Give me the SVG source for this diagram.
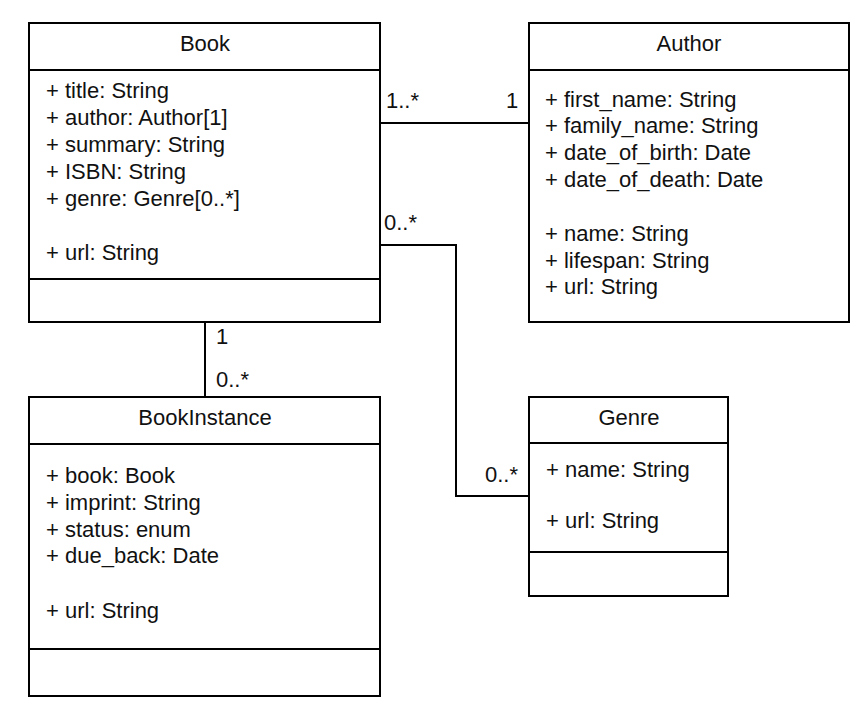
<svg xmlns="http://www.w3.org/2000/svg" width="867" height="720" viewBox="0 0 867 720">
<style>
.box{fill:#fff;stroke:#000;stroke-width:2}
.ln{stroke:#000;stroke-width:2;fill:none}
text{font-family:"Liberation Sans",Arial,sans-serif;font-size:22px;fill:#111}
.c{text-anchor:middle}
</style>
<rect width="867" height="720" fill="#fff"/>
<g id="connectors">
<path class="ln" d="M380,123 H529"/>
<path class="ln" d="M380,245 H456 V496 H529"/>
<path class="ln" d="M205,322 V397"/>
<text x="386" y="108">1..*</text>
<text x="506" y="108">1</text>
<text x="384" y="230">0..*</text>
<text x="485" y="482">0..*</text>
<text x="216" y="344">1</text>
<text x="216" y="387">0..*</text>
</g>
<g id="Book">
<rect class="box" x="29" y="23" width="351" height="299"/>
<path class="ln" d="M29,70 H380 M29,279 H380"/>
<text class="c" x="205" y="51">Book</text>
<text x="46" y="98">+ title: String</text>
<text x="46" y="125">+ author: Author[1]</text>
<text x="46" y="152">+ summary: String</text>
<text x="46" y="179">+ ISBN: String</text>
<text x="46" y="206">+ genre: Genre[0..*]</text>
<text x="46" y="260">+ url: String</text>
</g>
<g id="Author">
<rect class="box" x="529" y="23" width="320" height="299"/>
<path class="ln" d="M529,70 H849"/>
<text class="c" x="689" y="51">Author</text>
<text x="545" y="107">+ first_name: String</text>
<text x="545" y="133">+ family_name: String</text>
<text x="545" y="160">+ date_of_birth: Date</text>
<text x="545" y="187">+ date_of_death: Date</text>
<text x="545" y="241">+ name: String</text>
<text x="545" y="268">+ lifespan: String</text>
<text x="545" y="294">+ url: String</text>
</g>
<g id="BookInstance">
<rect class="box" x="29" y="397" width="351" height="299"/>
<path class="ln" d="M29,444 H380 M29,649 H380"/>
<text class="c" x="205" y="425">BookInstance</text>
<text x="46" y="483">+ book: Book</text>
<text x="46" y="510">+ imprint: String</text>
<text x="46" y="537">+ status: enum</text>
<text x="46" y="563">+ due_back: Date</text>
<text x="46" y="618">+ url: String</text>
</g>
<g id="Genre">
<rect class="box" x="529" y="397" width="199" height="199"/>
<path class="ln" d="M529,443 H728 M529,552 H728"/>
<text class="c" x="629" y="425">Genre</text>
<text x="546" y="477">+ name: String</text>
<text x="546" y="528">+ url: String</text>
</g>
</svg>
